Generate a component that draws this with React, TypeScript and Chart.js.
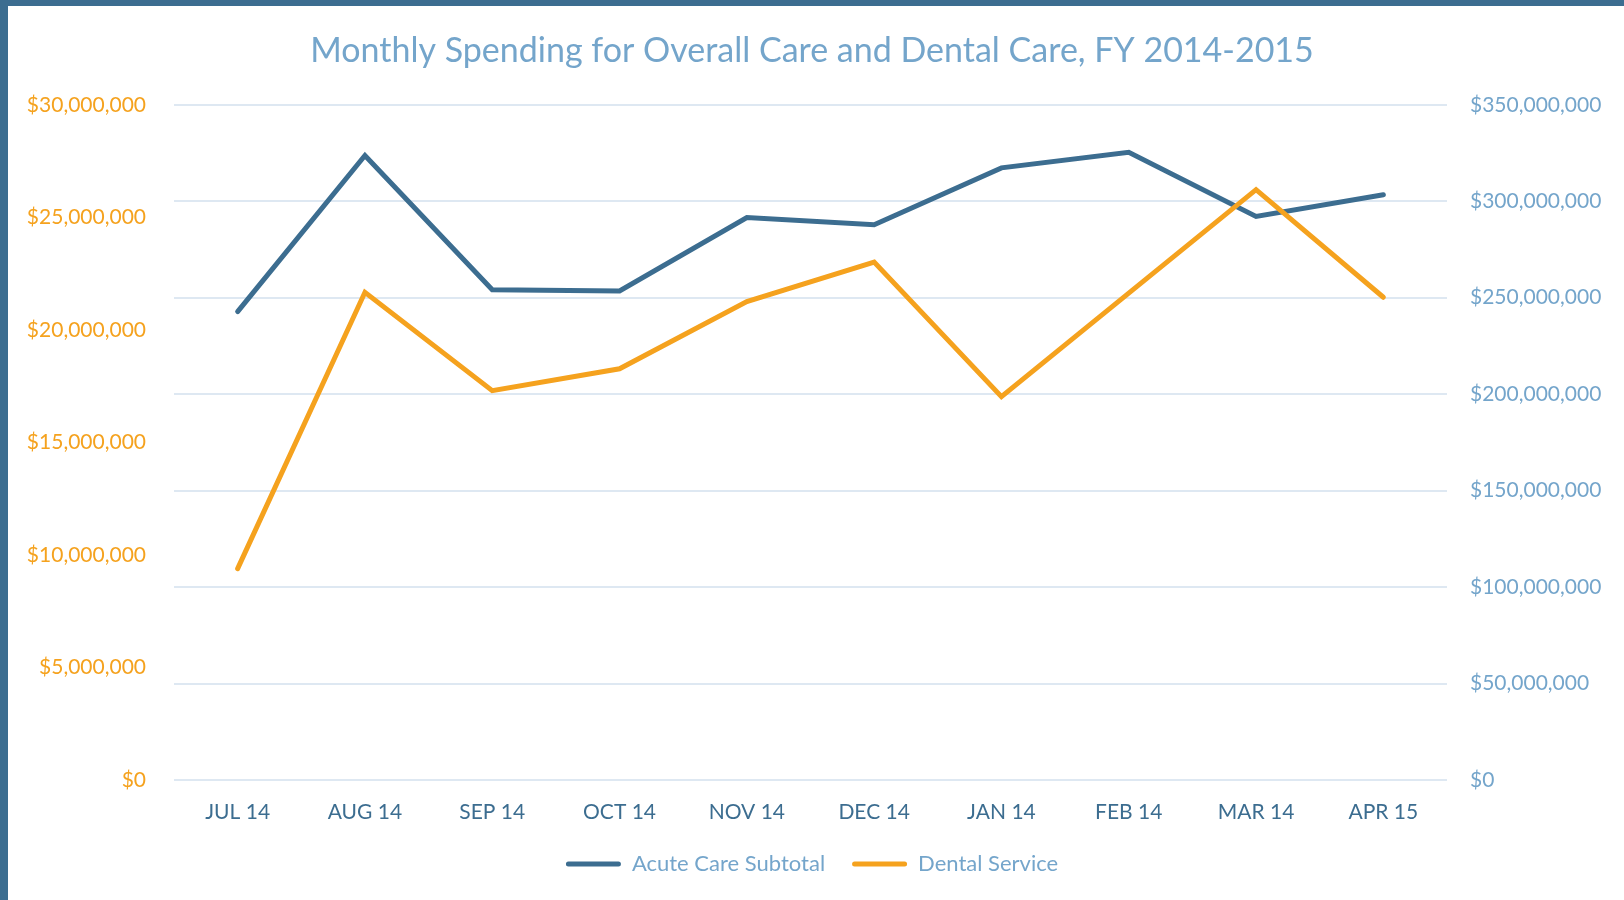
import React, { useEffect, useRef } from "react";
import { Chart, registerables } from "chart.js";

Chart.register(...registerables);

const categories = ["JUL 14", "AUG 14", "SEP 14", "OCT 14", "NOV 14", "DEC 14", "JAN 14", "FEB 14", "MAR 14", "APR 15"];
const acuteCare = [242.8e6, 323.7e6, 254.1e6, 253.5e6, 291.6e6, 287.8e6, 317.3e6, 325.4e6, 292.1e6, 303.4e6];
const dentalService = [9.39e6, 21.67e6, 17.3e6, 18.27e6, 21.26e6, 23.01e6, 17.03e6, 21.63e6, 26.23e6, 21.45e6];
const titleText = "Monthly Spending for Overall Care and Dental Care, FY 2014-2015";
const seriesNames = ["Acute Care Subtotal", "Dental Service"];

const BLUE = "#3C6D90";
const ORANGE = "#F5A21E";
const LIGHT_BLUE = "#74A5CB";
const GRID = "#DEE8F2";
const FONT = "Lato, 'Open Sans', sans-serif";

const money = (v: number | string) => "$" + Number(v).toLocaleString("en-US");

export default function App() {
  const ref = useRef<HTMLCanvasElement | null>(null);

  useEffect(() => {
    document.body.style.margin = "0";
    const ctx = ref.current!;
    const chart = new Chart(ctx, {
      type: "line",
      data: {
        labels: categories,
        datasets: [
          {
            label: seriesNames[0],
            data: acuteCare,
            borderColor: BLUE,
            backgroundColor: BLUE,
            borderWidth: 5,
            pointRadius: 0,
            tension: 0,
            yAxisID: "yRight",
            order: 1,
            borderCapStyle: "round",
            borderJoinStyle: "miter",
          },
          {
            label: seriesNames[1],
            data: dentalService,
            borderColor: ORANGE,
            backgroundColor: ORANGE,
            borderWidth: 5,
            pointRadius: 0,
            tension: 0,
            yAxisID: "yLeft",
            order: 0,
            borderCapStyle: "round",
            borderJoinStyle: "miter",
          },
        ],
      },
      options: {
        animation: false,
        responsive: false,
        maintainAspectRatio: false,
        layout: { padding: { left: 0, right: 0, top: 0, bottom: 15 } },
        plugins: {
          title: {
            display: true,
            text: titleText,
            color: LIGHT_BLUE,
            font: { family: FONT, size: 34, weight: "normal", lineHeight: 1.2 },
            padding: { top: 31, bottom: 33 },
          },
          legend: {
            position: "bottom",
            labels: {
              color: LIGHT_BLUE,
              font: { family: FONT, size: 22 },
              boxWidth: 55,
              boxHeight: 5,
              padding: 27,
              generateLabels: (ch: any) =>
                ch.data.datasets.map((ds: any, i: number) => ({
                  text: ds.label,
                  fillStyle: ds.borderColor,
                  strokeStyle: ds.borderColor,
                  lineWidth: 0,
                  hidden: false,
                  datasetIndex: i,
                  fontColor: LIGHT_BLUE,
                  borderRadius: 2.5,
                })),
              useBorderRadius: true,
              borderRadius: 2.5,
            },
          },
          tooltip: { enabled: false },
        },
        scales: {
          x: {
            offset: true,
            grid: { display: false, drawTicks: false },
            border: { display: false },
            ticks: {
              color: BLUE,
              font: { family: FONT, size: 21 },
              padding: 20,
              maxRotation: 0,
              autoSkip: false,
            },
            afterFit: (s: any) => {
              s.height = 46;
            },
          },
          yLeft: {
            position: "left",
            min: 0,
            max: 30000000,
            grid: { display: false, drawTicks: false },
            border: { display: false },
            ticks: {
              stepSize: 5000000,
              color: ORANGE,
              font: { family: FONT, size: 21 },
              padding: 28,
              callback: (v: any) => money(v),
            },
            afterFit: (s: any) => {
              s.width = 174;
            },
          },
          yRight: {
            position: "right",
            min: 0,
            max: 350000000,
            grid: { display: true, drawTicks: false, color: GRID, lineWidth: 2 },
            border: { display: false },
            ticks: {
              stepSize: 50000000,
              color: LIGHT_BLUE,
              font: { family: FONT, size: 21 },
              padding: 23,
              callback: (v: any) => money(v),
            },
            afterFit: (s: any) => {
              s.width = 1624 - 1447;
            },
          },
        },
      },
    });
    return () => chart.destroy();
  }, []);

  return (
    <div style={{ position: "relative", width: 1624, height: 900, background: "#fff", overflow: "hidden" }}>
      <canvas ref={ref} width={1624} height={900} style={{ position: "absolute", left: 0, top: 0, width: 1624, height: 900 }} />
      <div style={{ position: "absolute", left: 0, top: 0, width: 1624, height: 6, background: BLUE }} />
      <div style={{ position: "absolute", left: 0, top: 0, width: 8, height: 900, background: BLUE }} />
    </div>
  );
}
